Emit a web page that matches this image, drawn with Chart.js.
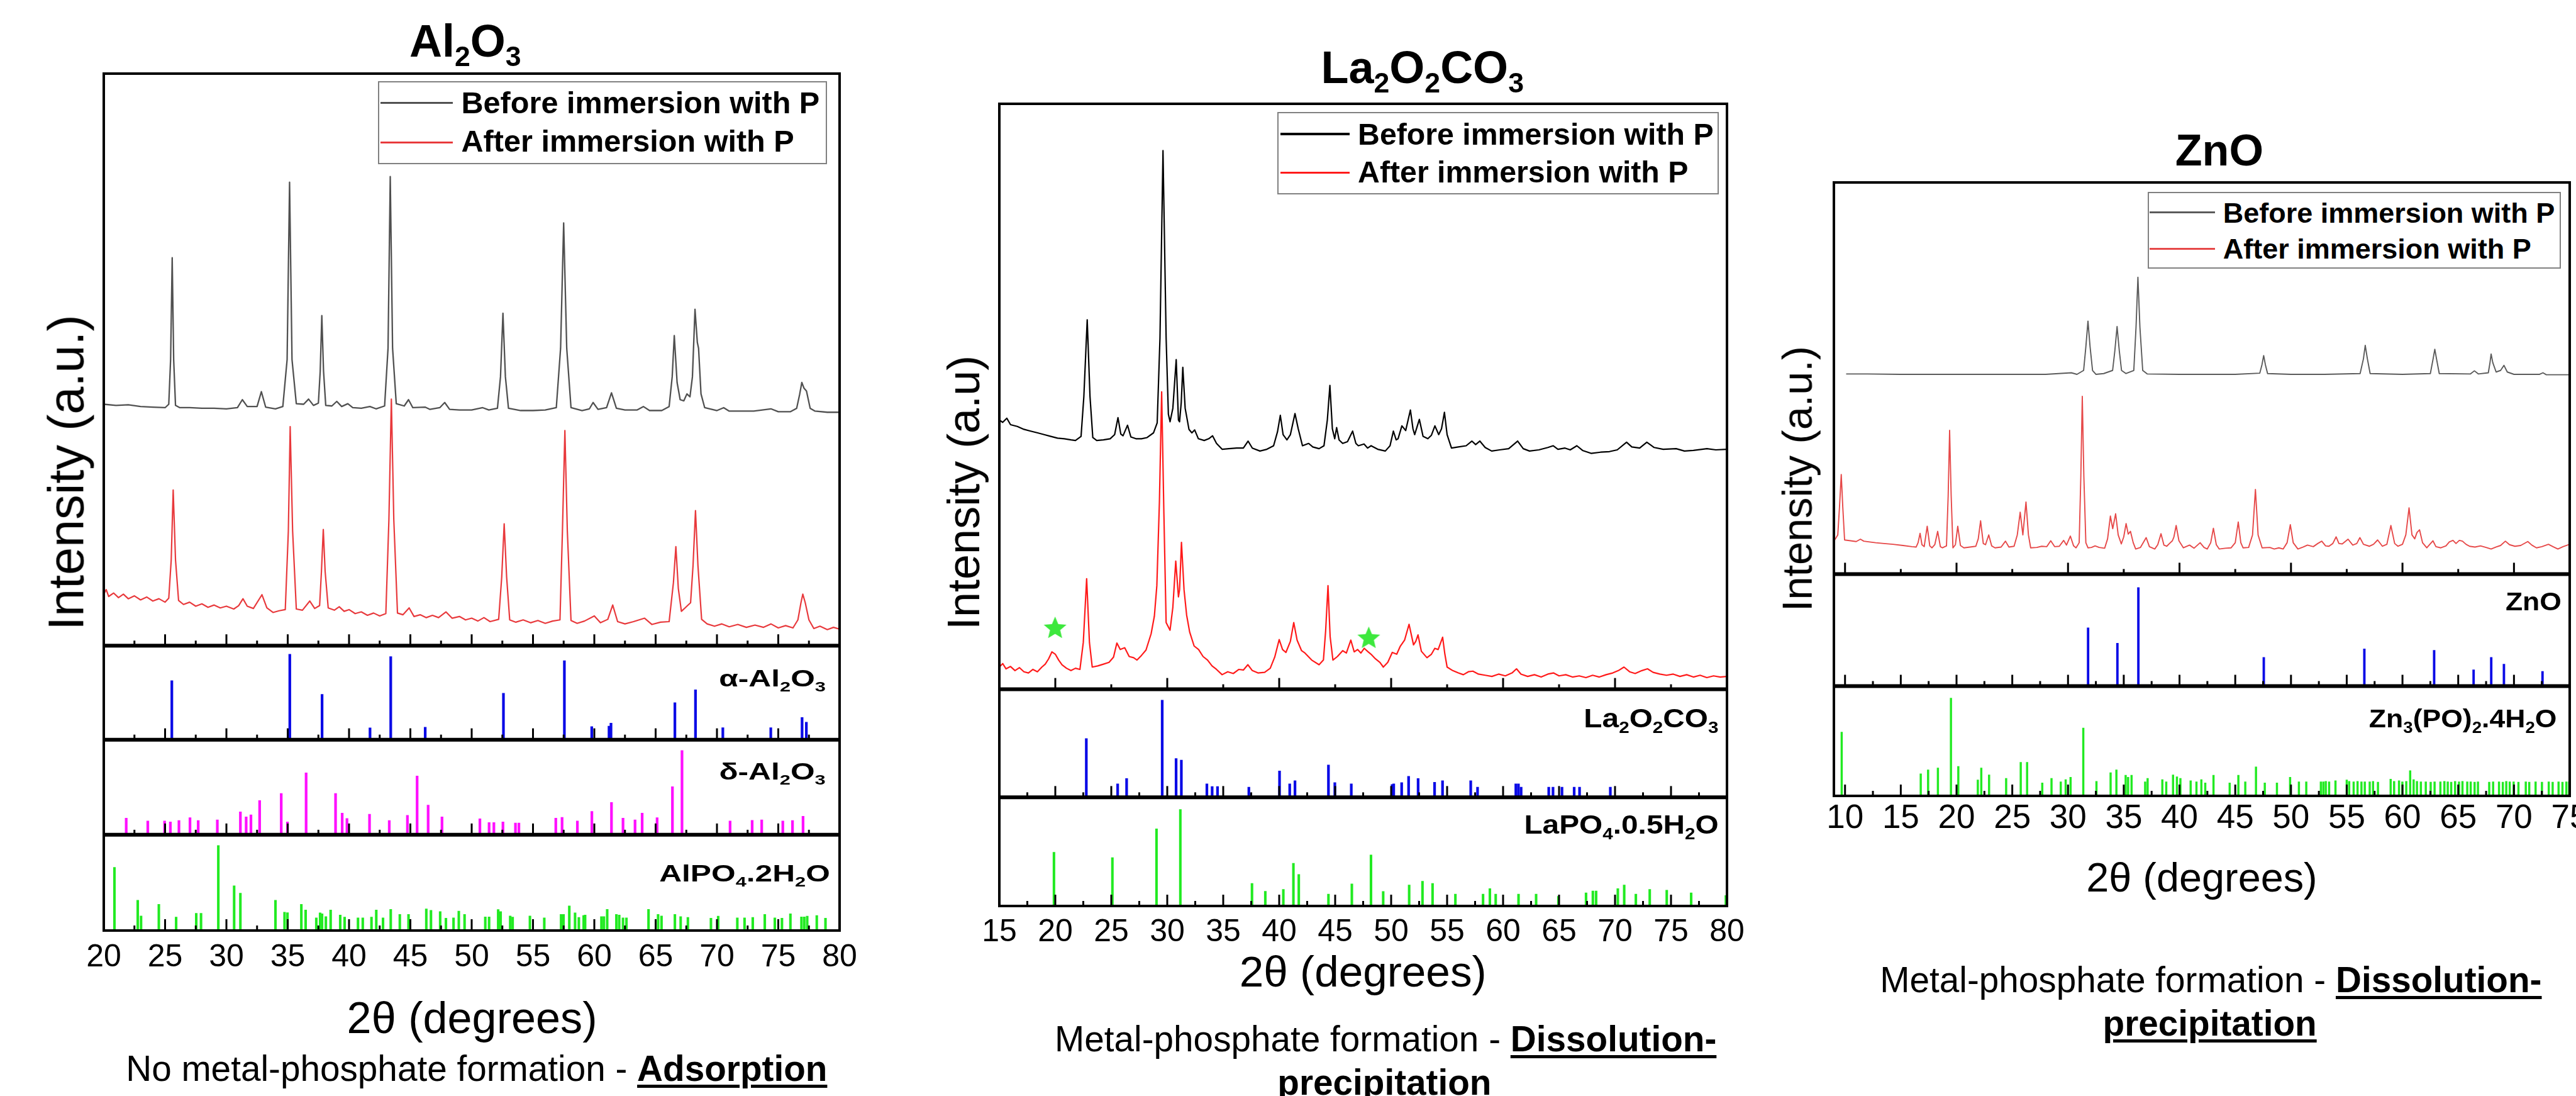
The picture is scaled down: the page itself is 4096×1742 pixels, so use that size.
<!DOCTYPE html>
<html>
<head>
<meta charset="utf-8">
<script src="https://cdn.jsdelivr.net/npm/chart.js@4.4.1/dist/chart.umd.min.js"></script>
<style>
  html, body { margin: 0; padding: 0; background: #fff; overflow: hidden; }
  #page { position: relative; width: 4096px; height: 1742px; overflow: hidden; background: #fff;
          font-family: "Liberation Sans", Arial, Helvetica, sans-serif; color: #000; }
  canvas { position: absolute; }
  .t { position: absolute; white-space: nowrap; line-height: 1; }
  .sb { font-size: .62em; vertical-align: -.34em; line-height: 0; }
  .u { text-decoration: underline; text-decoration-thickness: 5px; text-underline-offset: 6px; }
  .box { position: absolute; border: 2px solid #808080; box-sizing: border-box; background: #fff; }
  .ln { position: absolute; }
</style>
</head>
<body>
<div id="page"></div>
<script>
// ---------------- data (2θ in degrees, intensity in arbitrary units) ----------------
const seriesNames = ['Before immersion with P', 'After immersion with P'];

const ticksAl = [20, 25, 30, 35, 40, 45, 50, 55, 60, 65, 70, 75, 80];
const ticksLa = [15, 20, 25, 30, 35, 40, 45, 50, 55, 60, 65, 70, 75, 80];
const ticksZn = [10, 15, 20, 25, 30, 35, 40, 45, 50, 55, 60, 65, 70, 75];

// Al2O3 patterns
const al2o3Before = [[20,42.2],[21,42.0],[22,42.1],[23,41.8],[24,41.7],[25,41.6],[25.3,42.2],[25.45,50],[25.58,67.8],[25.7,50],[25.85,42.0],[26.2,41.6],[27,41.6],[28,41.5],[29,41.5],[30,41.4],[30.9,41.6],[31.3,43.0],[31.7,41.8],[32.5,41.8],[32.85,44.4],[33.2,41.7],[34,41.4],[34.6,41.8],[34.95,50],[35.15,81.0],[35.35,50],[35.7,42.3],[36.3,42.2],[36.7,43.1],[37.1,42.0],[37.5,42.4],[37.65,48],[37.78,57.7],[37.92,48],[38.1,42.0],[38.6,41.9],[39.0,42.7],[39.4,41.8],[39.9,42.3],[40.3,41.6],[41,41.5],[41.7,41.8],[42.2,41.4],[42.9,41.9],[43.18,52],[43.36,82.0],[43.55,52],[43.85,42.3],[44.5,41.9],[44.85,43.0],[45.2,41.6],[46.2,41.7],[46.6,41.3],[47.4,41.6],[47.8,42.5],[48.2,41.3],[49,41.2],[50,41.2],[50.9,41.6],[51.4,41.2],[52.1,41.5],[52.35,47],[52.55,58.1],[52.75,47],[53,41.5],[54,41.1],[55,41.1],[56,41.2],[56.9,41.6],[57.25,52],[57.5,73.9],[57.75,52],[58.1,41.6],[59,41.1],[59.6,41.4],[59.9,42.5],[60.3,41.3],[61.0,41.6],[61.4,44.2],[61.8,41.5],[62.5,41.2],[63.5,41.2],[64.0,41.8],[64.5,41.1],[65.5,41.1],[66.1,41.8],[66.35,47],[66.52,54.2],[66.75,46],[67.0,43.0],[67.3,42.8],[67.55,44.0],[67.8,43.5],[68.0,47],[68.21,58.8],[68.4,53],[68.5,52],[68.7,44],[69.0,41.6],[70,41.1],[70.55,41.6],[71,41.0],[72,41.0],[73,41.0],[74.4,41.4],[75,40.9],[76,40.9],[76.5,41.5],[76.75,44],[76.92,46.0],[77.1,45],[77.3,44.5],[77.6,41.5],[78,41.0],[79,40.8],[80,40.8]];
const al2o3After = [[20,9.0],[20.2,9.8],[20.4,8.6],[20.8,9.2],[21.2,8.4],[21.6,9.0],[22,8.2],[22.5,8.7],[23,8.0],[23.5,8.5],[24,7.8],[24.5,8.2],[25,7.6],[25.3,8.3],[25.5,15],[25.66,27.2],[25.85,15],[26.1,7.9],[26.5,7.2],[27,7.6],[27.5,6.9],[28,7.3],[28.5,6.7],[29,7.1],[29.5,6.6],[30,6.9],[30.6,6.4],[31.0,7.0],[31.35,8.2],[31.7,6.9],[32.2,6.5],[32.9,8.9],[33.3,6.6],[33.8,5.8],[34.3,6.1],[34.8,6.3],[35.05,20],[35.2,38.3],[35.4,20],[35.7,6.4],[36.2,6.2],[36.8,7.8],[37.2,6.5],[37.6,7.0],[37.75,13],[37.9,20.3],[38.05,13],[38.3,6.6],[38.8,6.2],[39.2,6.8],[39.6,6.0],[40.0,6.3],[40.5,5.6],[41,5.9],[41.5,5.3],[42,5.7],[42.5,5.2],[43.0,5.6],[43.25,22],[43.45,43.1],[43.65,22],[43.95,5.7],[44.4,5.4],[44.9,6.6],[45.3,5.1],[45.8,5.4],[46.3,4.9],[46.8,5.3],[47.3,4.9],[47.9,5.9],[48.4,4.8],[49,5.1],[49.5,4.5],[50,4.8],[50.5,4.3],[51,4.9],[51.5,4.2],[52.2,4.6],[52.45,12],[52.65,21.3],[52.85,12],[53.1,4.5],[53.6,4.1],[54.2,4.5],[54.8,4.0],[55.4,4.4],[56,3.9],[56.6,4.3],[57.2,4.5],[57.4,20],[57.6,37.6],[57.8,20],[58.1,4.4],[58.6,3.9],[59.2,4.3],[60,5.2],[60.5,4.0],[61.1,4.6],[61.5,7.1],[61.9,4.2],[62.5,3.8],[63.2,4.2],[64.1,4.8],[64.7,3.7],[65.4,4.1],[66.1,4.2],[66.45,11],[66.65,17.3],[66.85,10],[67.1,6.0],[67.4,6.6],[67.6,7.0],[67.85,7.5],[68.05,14],[68.25,23.6],[68.45,14],[68.75,4.6],[69.2,3.8],[69.8,3.4],[70.4,3.8],[71,3.3],[71.7,3.7],[72.4,3.2],[73.1,3.6],[73.8,3.2],[74.4,3.8],[75,3.1],[75.6,3.5],[76.2,3.1],[76.6,4.5],[76.85,7.5],[77.0,9.0],[77.2,7.5],[77.5,4.5],[77.9,3.0],[78.4,3.4],[79,2.8],[79.5,3.2],[80,2.9]];
const alphaAl2O3Sticks = [[25.55,62.7],[35.17,90.8],[37.8,48.2],[41.71,12.5],[43.4,88.4],[46.21,13.3],[52.59,49.4],[57.56,84.1],[59.79,14],[61.2,14.5],[61.36,17.6],[66.57,39.3],[68.25,53],[70.48,12.8],[74.39,12.8],[76.94,23.6],[77.29,18.6]];
const deltaAl2O3Sticks = [[21.83,17.6],[23.59,14.6],[24.96,14.6],[25.43,13.6],[26.13,15],[27.03,18],[27.7,15],[29.26,15.8],[31.14,24.2],[31.61,18.8],[32.0,21],[32.71,36],[34.47,43.5],[34.98,13.6],[36.5,65.2],[38.9,43.5],[39.44,22.8],[39.83,17.2],[41.67,21.6],[43.28,15],[44.76,20.5],[45.55,61.9],[46.45,31.3],[47.58,18.8],[50.67,16.9],[51.42,12.9],[51.81,12.9],[52.55,13.6],[53.57,12.5],[53.85,12.5],[56.86,17.6],[57.37,18.4],[58.62,14.6],[59.8,24.7],[61.4,34.1],[62.34,17.6],[63.32,15.8],[63.9,22.8],[65.12,18.1],[66.37,50.6],[67.15,88.7],[71.07,14.6],[72.87,15.3],[73.65,15.8],[75.37,14.6],[76.16,15],[77.02,19.5]];
const alpo4Sticks = [[20.87,66],[22.77,31.6],[23.04,15.2],[24.49,27.4],[25.9,14],[27.54,18],[27.93,18],[29.34,88.8],[30.63,46.8],[31.14,39.1],[34.0,31.6],[34.74,19.2],[34.98,18.7],[36.11,27.4],[36.46,21.5],[37.33,13.3],[37.64,18.5],[37.8,17.6],[38.11,14.5],[38.5,21.5],[39.28,16.2],[39.64,14],[40.73,13.3],[41.12,13.3],[41.83,14],[42.22,21.5],[42.77,13.3],[43.4,22.2],[44.14,16.9],[44.85,16.9],[46.3,22.7],[46.68,21.1],[47.43,19.9],[47.9,12.9],[48.52,13.3],[48.95,20.4],[49.42,16.9],[51.11,14.3],[51.42,14.3],[52.16,22],[52.36,19.9],[53.14,15.2],[53.34,14],[54.75,15.2],[55.92,13.3],[57.29,16.9],[57.49,16.9],[57.96,25.8],[58.43,18.5],[58.74,13.8],[59.13,15.7],[59.25,16.2],[60.58,14.5],[60.78,14.5],[61.05,22.2],[61.8,16.9],[62.03,16.2],[62.34,13.3],[62.62,13.3],[64.42,22.2],[65.2,16.9],[65.48,15.2],[66.57,16.9],[67.04,14.5],[67.63,13.8],[69.51,12.9],[70.1,15],[71.66,13.3],[72.25,13.3],[72.92,13.8],[73.9,16.9],[74.72,13.3],[75.3,12.9],[75.99,17.6],[76.89,14.3],[77.12,14.3],[77.36,15],[78.14,15.7],[78.85,12.9]];

// La2O2CO3 patterns
const la2o2co3Before = [[15,46.0],[15.3,45.6],[15.67,46.3],[16,45.2],[16.6,44.9],[17.2,44.4],[17.8,44.1],[18.42,43.8],[19,43.5],[19.6,43.2],[20.2,42.9],[20.8,42.8],[21.4,42.6],[21.8,42.5],[22.3,43.2],[22.55,50],[22.85,63.1],[23.1,50],[23.35,43.0],[23.7,42.5],[24.3,42.6],[24.9,42.8],[25.3,43.5],[25.6,46.4],[25.85,43.6],[26.05,43.3],[26.45,45.1],[26.75,43.1],[27.2,42.8],[27.7,42.8],[28.2,43.0],[28.77,43.8],[29.1,45.5],[29.35,60],[29.62,92.0],[29.9,60],[30.1,47],[30.25,45.7],[30.5,48],[30.8,56.3],[31.0,46.0],[31.1,45.7],[31.25,49],[31.39,55.0],[31.6,48],[31.94,44.4],[32.2,43.8],[32.45,44.3],[32.78,42.8],[33.3,42.5],[33.71,42.8],[34.05,43.3],[34.4,42.0],[34.9,41.0],[35.5,41.1],[36.2,41.2],[36.8,41.2],[37.22,42.4],[37.6,41.2],[38.28,40.7],[38.9,41.0],[39.5,41.6],[39.85,44],[40.1,46.8],[40.35,43.5],[40.69,42.6],[41.0,43.5],[41.41,47.1],[41.7,44.5],[42.08,41.6],[42.63,42.0],[43.0,41.4],[43.56,41.1],[44.0,41.6],[44.3,46],[44.53,51.9],[44.75,44.5],[44.96,42.8],[45.13,44.7],[45.35,42.6],[45.67,42.0],[46.1,42.3],[46.56,44.1],[46.85,42.0],[47.07,41.6],[47.58,41.9],[47.9,41.2],[48.21,41.6],[48.8,41.0],[49.48,40.7],[49.9,41.6],[50.2,44.1],[50.45,42.6],[50.62,42.8],[50.96,45.0],[51.3,44.2],[51.72,47.7],[51.95,44.5],[52.1,43.5],[52.52,46.1],[52.85,43.2],[53.28,42.8],[53.6,43.4],[53.91,45.0],[54.25,43.5],[54.5,44.5],[54.76,47.3],[55.0,43.5],[55.39,41.2],[56.0,41.4],[56.7,41.6],[57.21,42.4],[57.55,41.8],[57.92,42.4],[58.4,41.3],[58.98,40.7],[59.7,40.9],[60.5,41.1],[61.3,42.4],[61.8,41.1],[62.36,40.7],[63.2,40.9],[64.0,41.3],[64.47,41.6],[64.9,41.0],[65.53,41.2],[66.0,40.9],[66.59,41.6],[67.1,40.8],[67.86,40.3],[68.7,40.5],[69.5,40.6],[70.2,40.9],[71.03,42.2],[71.5,41.4],[72.2,41.2],[72.84,42.2],[73.5,41.3],[74.3,41.0],[75.46,41.1],[76.2,40.7],[77,40.8],[78.21,41.1],[79,40.9],[80,41.0]];
const la2o2co3After = [[15,3.8],[15.3,4.4],[15.6,3.5],[16,3.9],[16.4,3.2],[16.8,3.7],[17.2,3.0],[17.6,2.8],[18,3.4],[18.4,3.0],[18.8,3.8],[19.1,4.3],[19.4,5.2],[19.7,6.4],[20.0,6.0],[20.3,5.0],[20.6,4.2],[21.0,3.6],[21.4,3.2],[21.8,3.6],[22.2,3.4],[22.5,8],[22.8,18.9],[23.05,8],[23.3,3.8],[23.8,4.0],[24.3,4.3],[24.8,4.6],[25.2,5.5],[25.5,7.9],[25.8,6.8],[26.2,7.1],[26.6,5.6],[27.0,5.4],[27.3,5.0],[27.7,5.8],[28.1,6.7],[28.56,9.5],[28.85,12.5],[29.07,17.7],[29.3,32],[29.5,50.8],[29.7,30],[29.9,11.4],[30.25,10.1],[30.5,14],[30.76,21.9],[31.0,15.8],[31.1,17],[31.27,25.1],[31.5,17],[31.73,12.7],[32.0,9.8],[32.4,7.4],[32.8,6.8],[33.2,5.6],[33.6,5.0],[34.0,4.0],[34.4,3.4],[34.9,2.5],[35.4,3.0],[35.9,2.7],[36.4,3.4],[36.8,3.3],[37.2,4.2],[37.6,3.2],[38.1,2.8],[38.7,2.9],[39.2,3.6],[39.6,5.5],[40.0,8.5],[40.3,6.8],[40.6,6.3],[41.0,8.2],[41.3,11.4],[41.6,8.4],[42.0,6.6],[42.3,6.2],[42.9,5.0],[43.56,4.2],[43.95,5.0],[44.15,10],[44.36,17.7],[44.55,9],[44.8,5.0],[45.2,5.6],[45.67,6.6],[46.0,6.2],[46.4,8.4],[46.7,6.4],[47.0,6.8],[47.3,6.2],[47.6,7.0],[47.95,6.4],[48.2,6.0],[48.6,5.2],[49.0,4.6],[49.3,3.8],[49.7,4.6],[50.1,6.3],[50.5,6.0],[50.8,7.3],[51.2,8.4],[51.6,11.1],[52.0,7.6],[52.2,8.2],[52.4,9.3],[52.7,6.5],[53.2,5.4],[53.6,6.0],[53.9,7.0],[54.2,6.8],[54.6,8.9],[54.8,6.0],[55.0,3.8],[55.5,3.2],[56.0,2.8],[56.45,2.5],[56.9,3.0],[57.3,3.1],[57.8,2.6],[58.4,2.4],[59.0,2.2],[59.6,2.6],[60.2,2.3],[60.8,2.8],[61.2,3.5],[61.6,2.6],[62.2,2.2],[62.8,2.5],[63.4,2.1],[64.0,2.6],[64.5,2.8],[65.0,2.3],[65.6,2.5],[66.2,2.1],[66.8,2.3],[67.4,2.0],[68.0,2.4],[68.6,2.1],[69.2,2.5],[69.8,2.8],[70.3,3.2],[70.8,3.8],[71.3,3.0],[71.8,2.7],[72.4,3.2],[72.9,3.5],[73.4,2.9],[74.0,2.6],[74.6,2.4],[75.2,2.6],[75.8,2.2],[76.4,2.5],[77.0,2.1],[77.6,2.4],[78.2,2.0],[78.8,2.3],[79.4,2.1],[80,2.2]];
const la2o2co3Stars = [[19.98,10.6],[48.0,8.9]];
const la2o2co3Sticks = [[22.77,54.5],[25.57,12.5],[26.37,17.5],[29.55,90],[30.79,36],[31.26,34.5],[33.54,12.5],[34.01,10],[34.49,10],[37.29,9.5],[40.03,24.5],[40.94,12.5],[41.41,15.5],[44.4,30],[44.97,13.75],[46.44,12.5],[50.09,12],[50.23,12.5],[50.94,13.75],[51.56,19.5],[52.41,17.5],[53.88,14],[54.59,15.5],[57.11,15.5],[57.72,9.5],[61.14,12.5],[61.37,12.5],[61.61,9.5],[64.08,9.5],[64.46,9.5],[65.26,9.5],[66.35,9.5],[66.83,9.5],[69.58,9.5]];
const lapo4Sticks = [[19.88,49.5],[25.1,44.6],[29.04,71],[31.17,88.9],[37.57,20.8],[38.76,13.6],[40.37,15.3],[41.27,39.4],[41.75,29],[44.4,10.9],[46.49,20.3],[48.2,47],[49.29,13.4],[51.61,19.3],[52.8,22.8],[53.7,20.8],[55.74,10.9],[58.21,10.9],[58.82,16.1],[59.34,10.9],[61.38,10.9],[62.95,10.9],[64.94,8.9],[67.41,12.1],[68.02,13.9],[68.31,13.9],[70.25,16.1],[70.82,19.3],[71.86,10.9],[73.1,15.3],[74.62,14.6],[76.8,12.1],[79.9,9.7]];

// ZnO patterns
const znoBefore = [[10.1,51.1],[12,51.1],[15,51.0],[20,51.0],[25,51.0],[28,51.0],[30.3,51.4],[30.8,51.0],[31.4,52],[31.6,58],[31.79,64.6],[31.98,58],[32.2,52],[32.5,51.0],[33.2,51.2],[34.0,52],[34.2,57],[34.4,63.2],[34.6,57],[34.8,52],[35.2,51.2],[35.9,52],[36.1,63],[36.27,75.8],[36.45,63],[36.7,52],[37.1,51.1],[40,51.0],[45,51.0],[47.2,51.3],[47.4,53.5],[47.55,55.8],[47.7,53.5],[47.9,51.2],[50,51.0],[53,51.0],[56.2,51.2],[56.5,55],[56.66,58.4],[56.85,55],[57.1,51.2],[60,51.0],[62.5,51.2],[62.75,55],[62.9,57.4],[63.05,55],[63.3,51.2],[66.1,51.1],[66.45,51.9],[66.8,51.1],[67.7,51.4],[67.85,54],[67.95,56.2],[68.1,54],[68.4,51.6],[68.8,52],[69.1,53.3],[69.4,51.6],[70,51.0],[72.3,51.0],[72.6,51.4],[72.9,50.9],[75,50.9]];
const znoAfter = [[9.07,8.7],[9.35,10],[9.5,17],[9.66,25.4],[9.8,17],[9.96,8.7],[10.5,8.5],[11.0,8.3],[11.38,8.9],[11.68,8.4],[12.2,8.2],[12.75,8.0],[13.5,7.8],[14.3,7.6],[15.2,7.3],[16.0,7.0],[16.38,6.9],[16.55,8],[16.73,10.4],[16.9,7.5],[17.1,7.0],[17.37,12.2],[17.6,7.2],[17.8,6.7],[18.05,7.5],[18.31,10.9],[18.55,7.0],[18.74,6.7],[19.1,7.2],[19.25,20],[19.38,36.7],[19.52,20],[19.68,6.7],[19.9,7.5],[20.11,12.2],[20.35,7.3],[20.66,6.7],[21.2,6.9],[21.73,7.1],[21.95,9],[22.16,13.6],[22.4,7.8],[22.6,7.5],[22.89,10.0],[23.15,7.2],[23.45,6.7],[24.0,6.9],[24.39,8.4],[24.7,6.9],[25.16,7.1],[25.45,10],[25.71,15.8],[25.95,10],[26.23,18.4],[26.45,10],[26.65,6.7],[27.2,6.8],[27.64,7.1],[28.1,7.0],[28.45,8.5],[28.8,7.0],[29.22,7.1],[29.61,8.6],[29.86,7.4],[30.21,9.7],[30.5,7.2],[30.72,6.7],[31.0,8],[31.15,25],[31.28,45.4],[31.42,25],[31.6,8],[31.79,6.7],[32.1,6.8],[32.43,7.2],[32.8,6.8],[33.29,6.6],[33.55,9],[33.8,14.8],[34.01,11.6],[34.27,15.4],[34.5,10],[34.78,7.7],[35.0,9.5],[35.21,12.9],[35.4,10.2],[35.6,10.9],[35.85,8],[36.07,6.4],[36.5,6.8],[37.01,9.3],[37.3,7.0],[37.78,6.4],[38.05,7.5],[38.34,10.3],[38.6,7.4],[38.85,7.1],[39.1,7.8],[39.36,8.5],[39.5,9.5],[39.7,12.4],[39.95,8.5],[40.35,6.7],[40.9,7.4],[41.3,6.6],[41.85,8.0],[42.2,6.8],[42.49,6.4],[42.8,8],[43.04,11.7],[43.3,7.5],[43.56,6.4],[44.1,6.6],[44.63,6.7],[45.0,8],[45.27,13.3],[45.5,8],[45.7,6.7],[46.2,6.8],[46.55,10],[46.81,21.6],[47.05,10],[47.41,6.7],[48.1,6.8],[48.5,6.4],[48.91,6.7],[49.3,6.4],[49.65,8],[49.94,12.6],[50.2,8],[50.62,6.4],[51.1,6.9],[51.48,7.4],[52.0,7.0],[52.4,7.8],[52.76,8.4],[53.1,7.2],[53.4,7.1],[53.75,7.8],[54.05,9.5],[54.3,7.8],[54.6,7.7],[55.12,8.9],[55.54,7.4],[55.9,7.8],[56.18,9.3],[56.5,7.6],[57.04,7.1],[57.4,7.6],[57.77,8.7],[58.2,7.1],[58.6,7.6],[58.96,12.4],[59.3,7.8],[59.6,7.1],[60.0,7.6],[60.3,10],[60.59,16.9],[60.85,10],[61.1,9.0],[61.3,10.6],[61.53,11.3],[61.8,8],[62.18,6.7],[62.73,8.5],[63.0,7.0],[63.44,6.7],[63.9,7.2],[64.2,8.2],[64.53,8.6],[64.8,7.8],[65.1,8.6],[65.38,8.4],[65.7,7.6],[66.02,7.1],[66.5,6.9],[67.0,7.2],[67.5,6.8],[67.95,6.4],[68.4,6.9],[68.8,7.3],[69.23,8.4],[69.6,7.5],[70.09,7.1],[70.6,7.3],[71.24,8.3],[71.6,7.4],[72.02,6.7],[72.5,7.0],[73.09,7.6],[73.5,7.0],[73.94,6.4],[74.4,7.0],[75.0,7.6]];
const znoSticks = [[31.8,52],[34.43,38.3],[36.31,88],[47.56,25.6],[56.58,33.2],[62.84,31.9],[66.38,14.5],[67.96,25.6],[69.1,19.6],[72.56,13.1]];
const zn3po4Sticks = [[9.7,58.1],[16.79,20.2],[17.45,23.7],[18.33,25.4],[19.5,89],[20.16,26.9],[21.91,14.5],[22.22,25.4],[22.92,19.1],[24.45,16],[25.76,30.6],[26.33,30.6],[27.69,11.8],[28.52,16],[29.35,12.9],[29.79,14.9],[30.23,17],[31.37,61.9],[32.55,13.3],[33.82,21.2],[34.34,23.7],[35.17,18.8],[35.39,17],[35.7,18.8],[36.92,12.9],[37.14,16],[38.46,14.9],[38.81,12.9],[39.42,19.1],[39.77,17.5],[40.08,16],[41.0,13.9],[41.52,12.9],[41.96,14.9],[42.31,11.8],[43.05,18.8],[44.5,11.8],[45.28,18.8],[45.9,12.9],[46.86,26.4],[47.65,11.8],[48.74,11.8],[49.92,17],[50.71,12.9],[51.37,12.9],[52.68,12.9],[52.9,12.9],[53.12,13.3],[53.42,12.9],[53.99,13.9],[55.0,14.5],[55.22,13.3],[55.62,12.9],[55.97,13.3],[56.32,12.9],[56.62,12.9],[57.06,12.9],[57.36,13.3],[57.8,12.5],[58.94,15.3],[59.25,13.3],[59.69,13.9],[59.99,12.9],[60.34,13.3],[60.69,23],[61.0,14.9],[61.3,13.3],[61.65,12.9],[62.09,12.9],[62.53,12.5],[62.88,12.9],[63.4,12.9],[63.76,13.3],[64.06,12.9],[64.37,12.5],[64.72,13.3],[65.07,12.9],[65.38,13.3],[65.81,12.9],[66.12,12.9],[66.47,12.5],[66.77,12.9],[67.78,12.5],[68.13,12.9],[68.66,12.9],[69.0,12.5],[69.31,13.3],[69.62,12.9],[69.97,12.9],[70.4,12.5],[71.06,12.9],[71.37,12.5],[71.94,12.9],[72.51,12.5],[73.12,12.9],[73.47,12.5],[74.0,12.9],[74.35,12.5],[74.7,12.9],[74.95,12.9]];

// ---------------- layout (reference pixels, drawn at S) ----------------
const S = 0.9;
const W = 4096;
const PAD = 70, PADT = 10, XH = 90;
const page = document.getElementById('page');
Chart.defaults.font.family = '"Liberation Sans", Arial, sans-serif';
Chart.defaults.color = '#000';

const pts = arr => arr.map(([x, y]) => ({x, y}));

function starImage(size, color) {
  const c = document.createElement('canvas');
  c.width = c.height = size;
  const g = c.getContext('2d');
  const r = size / 2, ri = r * 0.45;
  g.beginPath();
  for (let k = 0; k < 10; k++) {
    const a = -Math.PI / 2 + k * Math.PI / 5;
    const rr = k % 2 ? ri : r;
    g.lineTo(r + rr * Math.cos(a), r + rr * 1.0 * Math.sin(a) + size * 0.05);
  }
  g.closePath();
  g.fillStyle = color;
  g.fill();
  return c;
}

// frames between stacked panels and inward tick marks
const framePlugin = {
  id: 'frames',
  afterDatasetsDraw(chart, args, opts) {
    const {ctx, chartArea: a, scales} = chart;
    const xs = scales.x;
    ctx.save();
    ctx.strokeStyle = '#000';
    opts.panels.forEach((p, i) => {
      const ys = scales['y' + i];
      ctx.lineWidth = 3;
      let k = 0;
      for (let v = p.start; v <= xs.max + 1e-6; v += p.step, k++) {
        if (v <= xs.min + 1e-6 || v >= xs.max - 1e-6) continue;
        const len = k % 2 === 0 ? 18 : 8;
        const px = xs.getPixelForValue(v);
        ctx.beginPath();
        ctx.moveTo(px, ys.bottom);
        ctx.lineTo(px, ys.bottom - len);
        ctx.stroke();
      }
      if (i < opts.panels.length - 1) {
        ctx.lineWidth = 6;
        ctx.beginPath();
        ctx.moveTo(a.left, ys.bottom);
        ctx.lineTo(a.right, ys.bottom);
        ctx.stroke();
      }
    });
    ctx.lineWidth = 4;
    ctx.strokeRect(a.left, a.top, a.right - a.left, a.bottom - a.top);
    ctx.restore();
  }
};

function buildColumn(c) {
  const L = Math.round(c.left * S), R = Math.round(c.right * S);
  const T = Math.round(c.top * S), B = Math.round(c.bottom * S);
  const cv = document.createElement('canvas');
  cv.width = R - L + 2 * PAD;
  cv.height = B - T + PADT + XH;
  cv.style.left = (L - PAD) + 'px';
  cv.style.top = (T - PADT) + 'px';
  page.appendChild(cv);

  const scales = {
    x: {
      type: 'linear', position: 'bottom', min: c.min, max: c.max, offset: false,
      grid: {display: false, drawTicks: false},
      border: {display: false},
      ticks: {autoSkip: false, maxRotation: 0, minRotation: 0, padding: c.tickPad,
              font: {size: c.tickSize, lineHeight: 1}, color: '#000'},
      afterBuildTicks: axis => { axis.ticks = c.ticks.map(v => ({value: v})); },
      afterFit: axis => { axis.height = XH; }
    }
  };
  c.weights.forEach((w, i) => {
    scales['y' + i] = {type: 'linear', display: false, min: 0, max: 100,
                       stack: 'col', stackWeight: w, weight: 10 - i};
  });

  new Chart(cv, {
    type: 'line',
    data: {datasets: c.datasets},
    options: {
      responsive: false, animation: false, events: [],
      layout: {padding: {left: PAD, right: PAD, top: PADT, bottom: 0}},
      plugins: {legend: {display: false}, tooltip: {enabled: false},
                frames: {panels: c.panels}},
      scales
    },
    plugins: [framePlugin]
  });
}

const line = (data, color, width) => ({type: 'line', data: pts(data), borderColor: color, borderWidth: width,
  pointRadius: 0, tension: 0, fill: false, borderJoinStyle: 'round', yAxisID: 'y0'});
const sticks = (data, color, axis, thick) => ({type: 'bar', data: pts(data), backgroundColor: color,
  borderWidth: 0, barThickness: thick, grouped: false, yAxisID: axis});

const BLUE = '#0a0ae6', MAGENTA = '#ff10ff', GREEN = '#22ea22';
const colAl = {red: '#e8393c', grey: '#505050'};
const colLa = {red: '#ff1a1a', grey: '#000000'};
const colZn = {red: '#e64848', grey: '#5a5a5a'};

buildColumn({
  left: 183, right: 1483, top: 130, bottom: 1643, min: 20, max: 80, ticks: ticksAl,
  tickSize: 50, tickPad: 18,
  weights: [1010, 166, 168, 169],
  panels: [{start: 20, step: 2.5}, {start: 20, step: 2.5}, {start: 20, step: 2.5}, {start: 20, step: 2.5}],
  datasets: [
    line(al2o3After, colAl.red, 2.2),
    line(al2o3Before, colAl.grey, 2.3),
    sticks(alphaAl2O3Sticks, BLUE, 'y1', 3.6),
    sticks(deltaAl2O3Sticks, MAGENTA, 'y2', 3.6),
    sticks(alpo4Sticks, GREEN, 'y3', 3.4)
  ]
});

buildColumn({
  left: 1766, right: 3051, top: 182, bottom: 1600, min: 15, max: 80, ticks: ticksLa,
  tickSize: 50, tickPad: 17,
  weights: [1035, 191, 192],
  panels: [{start: 10, step: 5}, {start: 15, step: 2.5}, {start: 15, step: 2.5}],
  datasets: [
    {type: 'scatter', data: pts(la2o2co3Stars), pointStyle: starImage(38, '#3de83d'), pointRadius: 10, yAxisID: 'y0'},
    line(la2o2co3After, colLa.red, 2.2),
    line(la2o2co3Before, colLa.grey, 2.2),
    sticks(la2o2co3Sticks, BLUE, 'y1', 3.6),
    sticks(lapo4Sticks, GREEN, 'y2', 3.4)
  ]
});

buildColumn({
  left: 3240, right: 4540, top: 322, bottom: 1406, min: 9, max: 75, ticks: ticksZn,
  tickSize: 53, tickPad: 10,
  weights: [692, 198, 194],
  panels: [{start: 10, step: 5}, {start: 10, step: 2.5}, {start: 10, step: 2.5}],
  datasets: [
    line(znoAfter, colZn.red, 1.9),
    line(znoBefore, colZn.grey, 1.9),
    sticks(znoSticks, BLUE, 'y1', 3.2),
    sticks(zn3po4Sticks, GREEN, 'y2', 2.8)
  ]
});

// ---------------- text (titles, legends, labels, captions) ----------------
function addText(html, x, y, size, opt = {}) {
  const d = document.createElement('div');
  const f = size * S;
  d.className = 't';
  d.style.fontSize = f + 'px';
  d.style.fontWeight = opt.bold ? 'bold' : 'normal';
  d.innerHTML = html;
  if (opt.rotate) {
    d.style.left = (x * S - 0.3465 * f) + 'px';
    d.style.top = (y * S) + 'px';
    d.style.transform = 'translate(-50%,-50%) rotate(-90deg)';
  } else {
    d.style.top = (y * S - 0.8465 * f) + 'px';
    if (opt.anchor === 'middle') {
      d.style.left = (x * S) + 'px';
      d.style.transform = 'translateX(-50%)';
    } else if (opt.anchor === 'end') {
      d.style.right = (W - x * S) + 'px';
      d.style.transformOrigin = '100% 50%';
      if (opt.sx) d.style.transform = 'scaleX(' + opt.sx + ')';
    } else {
      d.style.left = (x * S) + 'px';
    }
  }
  page.appendChild(d);
}
const sb = s => '<span class="sb">' + s + '</span>';

function addLegend(box, lx0, lx1, ly, th, tx, ty, size, colors) {
  const b = document.createElement('div');
  b.className = 'box';
  b.style.left = box[0] * S + 'px';
  b.style.top = box[1] * S + 'px';
  b.style.width = (box[2] - box[0]) * S + 'px';
  b.style.height = (box[3] - box[1]) * S + 'px';
  page.appendChild(b);
  seriesNames.forEach((name, i) => {
    const l = document.createElement('div');
    l.className = 'ln';
    l.style.left = lx0 * S + 'px';
    l.style.width = (lx1 - lx0) * S + 'px';
    l.style.top = (ly[i] * S - th / 2) + 'px';
    l.style.height = th + 'px';
    l.style.background = colors[i];
    page.appendChild(l);
    addText(name, tx, ty[i], size, {bold: true});
  });
}

// panel titles
addText('Al' + sb(2) + 'O' + sb(3), 822, 100, 80, {bold: true, anchor: 'middle'});
addText('La' + sb(2) + 'O' + sb(2) + 'CO' + sb(3), 2513, 147, 80, {bold: true, anchor: 'middle'});
addText('ZnO', 3921, 293, 78, {bold: true, anchor: 'middle'});

// legends
addLegend([668, 143, 1461, 290], 672, 800, [181.7, 251.7], 3.8, 815, [200, 268], 54, [colAl.grey, colAl.red]);
addLegend([2257, 198, 3037, 343], 2262, 2384, [237, 305], 3.8, 2399, [255, 321.7], 53.6, [colLa.grey, colLa.red]);
addLegend([3794, 339, 4524, 475], 3798, 3913, [375, 439], 3.0, 3927.5, [393, 457], 50, [colZn.grey, colZn.red]);

// y-axis titles
addText('Intensity (a.u.)', 147, 834, 88, {rotate: true});
addText('Intensity (a.u)', 1730, 870, 80, {rotate: true});
addText('Intensity (a.u.)', 3201, 845, 74, {rotate: true});

// reference pattern labels
addText('&alpha;-Al' + sb(2) + 'O' + sb(3), 1459, 1213, 40, {bold: true, anchor: 'end', sx: 1.38});
addText('&delta;-Al' + sb(2) + 'O' + sb(3), 1459, 1377, 40, {bold: true, anchor: 'end', sx: 1.38});
addText('AlPO' + sb(4) + '.2H' + sb(2) + 'O', 1466, 1557, 40, {bold: true, anchor: 'end', sx: 1.38});
addText('La' + sb(2) + 'O' + sb(2) + 'CO' + sb(3), 3036, 1285, 47, {bold: true, anchor: 'end', sx: 1.13});
addText('LaPO' + sb(4) + '.0.5H' + sb(2) + 'O', 3036, 1472.7, 47, {bold: true, anchor: 'end', sx: 1.13});
addText('ZnO', 4526, 1078, 45, {bold: true, anchor: 'end', sx: 1.1});
addText('Zn' + sb(3) + '(PO)' + sb(2) + '.4H' + sb(2) + 'O', 4517, 1285, 45, {bold: true, anchor: 'end', sx: 1.1});

// x-axis titles
addText('2&theta; (degrees)', 834, 1825, 78, {anchor: 'middle'});
addText('2&theta; (degrees)', 2408, 1743, 77, {anchor: 'middle'});
addText('2&theta; (degrees)', 3890, 1575, 72, {anchor: 'middle'});

// captions
addText('No metal-phosphate formation - <b class="u">Adsorption</b>', 842, 1910, 63, {anchor: 'middle'});
addText('Metal-phosphate formation - <b class="u">Dissolution-</b>', 2448, 1857.5, 63, {anchor: 'middle'});
addText('<b class="u">precipitation</b>', 2446, 1934.5, 63, {anchor: 'middle'});
addText('Metal-phosphate formation - <b class="u">Dissolution-</b>', 3906, 1753.6, 63, {anchor: 'middle'});
addText('<b class="u">precipitation</b>', 3904, 1830.5, 63, {anchor: 'middle'});
</script>
</body>
</html>
